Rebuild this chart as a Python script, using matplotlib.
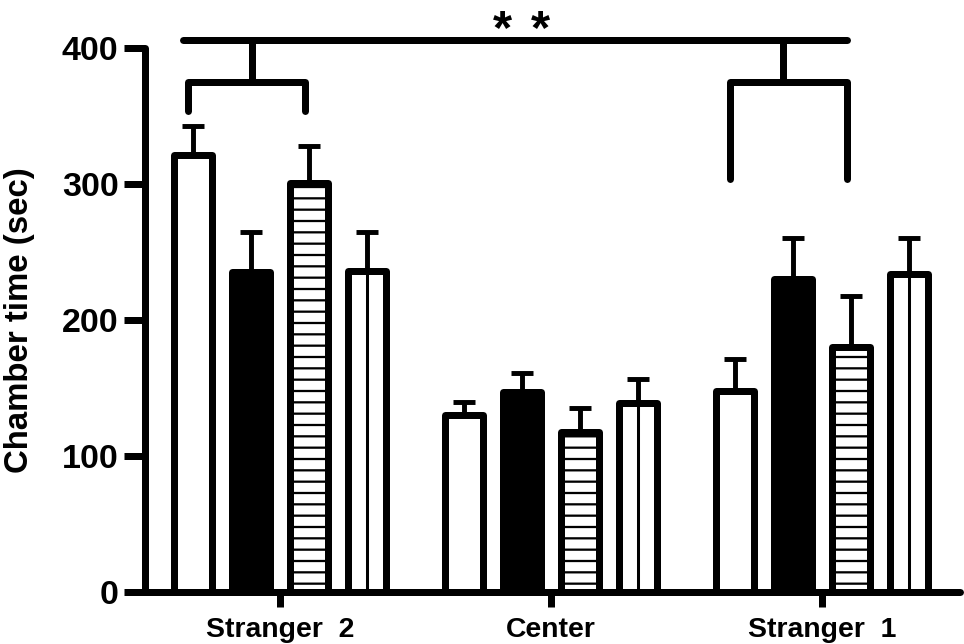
import numpy as np
import matplotlib
matplotlib.use('Agg')
import matplotlib.pyplot as plt

# values (sec)
groups = ['Stranger  2', 'Center', 'Stranger  1']

open_mean = [321, 130, 148]
open_err = [22, 10, 23]
filled_mean = [235, 147, 230]
filled_err = [30, 14, 30]
striped_mean = [301, 118, 180]
striped_err = [27, 17, 38]
split_mean = [236, 139, 234]
split_err = [29, 18, 26]

yticks = [0, 100, 200, 300, 400]

# significance bracket levels
sig_top = 406
sig_bracket = 375
left_leg_end = 354
right_leg_end = 304

DPI = 136
plt.rcParams['font.family'] = ['Liberation Sans', 'DejaVu Sans']
plt.rcParams['font.weight'] = 'bold'
plt.rcParams['hatch.linewidth'] = 1.2
plt.rcParams['hatch.color'] = 'black'

fig = plt.figure(figsize=(964 / DPI, 644 / DPI), dpi=DPI)
ax = fig.add_axes([0.1504, 0.0807, 0.8455, 0.8447])

x = np.arange(len(groups))
step = 0.214
width = 0.14
lw = 3.7

series = [
    (open_mean, open_err, 'white', None, False),
    (filled_mean, filled_err, 'black', None, False),
    (striped_mean, striped_err, 'white', '--', False),
    (split_mean, split_err, 'white', None, True),
]

positions = []
for i, (m, e, fc, h, split) in enumerate(series):
    xs = x + (i - 1.5) * step
    positions.append(xs)
    ax.errorbar(xs, m, yerr=[np.zeros(len(m)), e], fmt='none', ecolor='black',
                elinewidth=2.6, capsize=6, capthick=2.6, zorder=1)
    ax.bar(xs, m, width, facecolor=fc, edgecolor='black', linewidth=lw,
           hatch=h, zorder=2, joinstyle='round')
    if split:
        ax.vlines(xs, 0, m, color='black', linewidth=1.6, zorder=3)

# brackets
line_kw = dict(color='black', lw=lw, solid_capstyle='round',
               solid_joinstyle='round', clip_on=False, zorder=4)
l0, l1 = positions[0][0] - 0.02, positions[2][0] - 0.015
r0, r1 = positions[0][2] - 0.02, positions[2][2] - 0.015
ax.plot([l0, l0, l1, l1], [left_leg_end, sig_bracket, sig_bracket, left_leg_end], **line_kw)
ax.plot([r0, r0, r1, r1], [right_leg_end, sig_bracket, sig_bracket, right_leg_end], **line_kw)
lm = (l0 + l1) / 2 + 0.02
rm = (r0 + r1) / 2 - 0.02
ax.plot([lm, lm], [sig_bracket, sig_top], **line_kw)
ax.plot([rm, rm], [sig_bracket, sig_top], **line_kw)
ax.plot([l0 - 0.015, r1], [sig_top, sig_top], **line_kw)
star_x = (l0 + r1) / 2 + 0.015
for dx in (-0.07, 0.07):
    ax.text(star_x + dx, 404, '*', ha='center', va='baseline',
            fontsize=26, fontweight='bold', clip_on=False)

ax.set_xlim(-0.498, 2.509)
ax.set_ylim(0, 400)
ax.set_yticks(yticks)
ax.set_xticks(x, groups)
ax.tick_params(axis='y', length=11, width=lw, pad=3, labelsize=18)
ax.tick_params(axis='x', length=8, width=lw, pad=5, labelsize=15)

for side in ['top', 'right']:
    ax.spines[side].set_visible(False)
for side in ['left', 'bottom']:
    ax.spines[side].set_linewidth(lw)
    ax.spines[side].set_capstyle('round')

fig.text(0.0207, 0.503, 'Chamber time (sec)', rotation=90, ha='center',
         va='center', fontsize=17.5, fontweight='bold')

fig.savefig('out.png', dpi=DPI)
